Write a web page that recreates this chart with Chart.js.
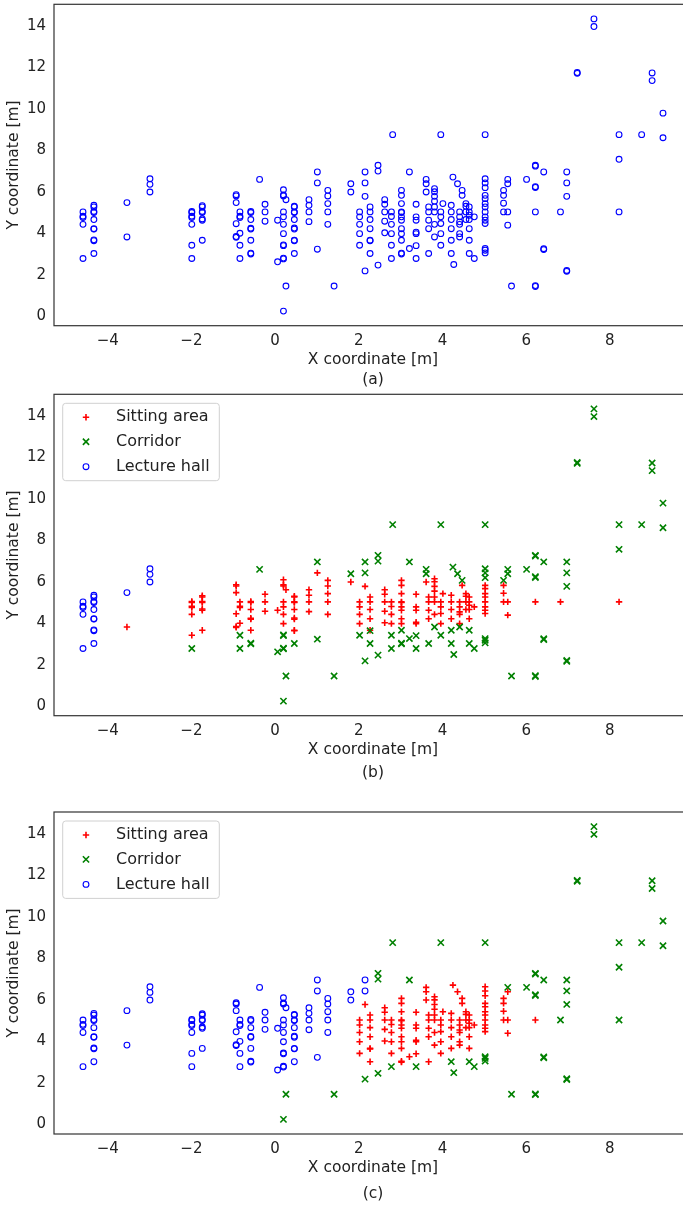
<!DOCTYPE html>
<html>
<head>
<meta charset="utf-8">
<script src="https://cdn.jsdelivr.net/npm/chart.js@4.4.1/dist/chart.umd.min.js"></script>
<style>
  html, body { margin: 0; padding: 0; background: #fff; }
  body { position: relative; width: 683px; height: 1206px; overflow: hidden; }
  canvas { position: absolute; left: 0; }
  #chartA { top: 0; }
  #chartB { top: 390px; }
  #chartC { top: 790px; }
</style>
</head>
<body>
<canvas id="chartA" width="700" height="390"></canvas>
<canvas id="chartB" width="700" height="400"></canvas>
<canvas id="chartC" width="700" height="416"></canvas>
<script>
// measured positions, grouped by x column; zones: S = sitting area, C = corridor, L = lecture hall
const colX = [-4.59, -4.33, -3.54, -2.99, -1.99, -1.74, -0.93, -0.84, -0.58, -0.37,
              -0.24, 0.06, 0.20, 0.26, 0.46, 0.81, 1.01, 1.26, 1.41, 1.81,
              2.02, 2.15, 2.27, 2.46, 2.62, 2.78, 2.81, 3.02, 3.21, 3.37,
              3.61, 3.67, 3.81, 3.96, 4.01, 4.21, 4.25, 4.27, 4.36, 4.41,
              4.47, 4.56, 4.64, 4.76, 5.02, 5.46, 5.56, 5.65, 6.01, 6.22,
              6.42, 6.82, 6.97, 7.22, 7.62, 8.22, 8.76, 9.01, 9.27];

const colY = [
  [5.03, 4.82, 4.76, 4.43, 2.78],
  [5.35, 5.27, 5.05, 5.00, 4.66, 4.22, 4.20, 3.68, 3.64, 3.02],
  [5.48, 3.82],
  [6.63, 6.36, 5.99],
  [5.05, 5.00, 4.82, 4.76, 4.43, 3.42, 2.78],
  [5.33, 5.27, 5.05, 5.00, 4.69, 4.63, 3.66],
  [5.86, 5.80, 5.48, 4.46, 3.84, 3.80],
  [5.03, 4.82, 4.76, 4.00, 3.42, 2.78],
  [5.05, 5.00, 4.66, 4.24, 4.20, 3.66, 3.04, 3.00],
  [6.60],
  [5.40, 5.03, 4.58],
  [4.63, 2.62],
  [6.10, 5.85, 5.80, 5.03, 4.79, 4.43, 3.98, 3.44, 3.40, 2.80, 2.76, 0.24],
  [5.62, 1.45],
  [5.30, 5.27, 5.03, 5.00, 4.66, 4.25, 4.20, 3.66, 3.64, 3.02],
  [5.62, 5.35, 5.03, 4.56],
  [6.96, 6.43, 3.23],
  [6.07, 5.80, 5.43, 5.03, 4.43],
  [1.45],
  [6.39, 5.99],
  [5.03, 4.79, 4.43, 3.98, 3.42],
  [6.96, 6.43, 5.78, 2.18],
  [5.27, 5.03, 4.66, 4.22, 3.66, 3.64, 3.02],
  [7.28, 7.00, 2.46],
  [5.62, 5.40, 5.03, 4.58, 4.02],
  [5.03, 4.81, 4.43, 3.98, 3.42, 2.78],
  [8.76],
  [6.07, 5.83, 5.43, 5.03, 5.00, 4.79, 4.63, 4.22, 3.98, 3.66, 3.04, 3.00],
  [6.96, 3.26],
  [5.40, 4.79, 4.63, 4.05, 3.98, 3.40, 2.78],
  [6.60, 6.39, 5.99],
  [5.27, 5.03, 4.63, 4.22, 3.02],
  [6.15, 6.00, 5.78, 5.55, 5.27, 5.03, 4.43, 3.82],
  [8.76, 5.03, 4.79, 4.47, 3.98, 3.42],
  [5.43],
  [5.35, 5.03, 4.66, 4.22, 3.66, 3.02],
  [6.71],
  [2.49],
  [6.39],
  [5.03, 4.79, 4.55, 4.43, 3.98, 3.82],
  [6.07, 5.83],
  [5.43, 5.30, 5.03, 4.66],
  [5.27, 5.03, 4.87, 4.66, 4.22, 3.66, 3.02],
  [4.79, 2.78],
  [8.76, 6.63, 6.43, 6.20, 5.83, 5.67, 5.43, 5.27, 5.03, 4.79, 4.63, 4.47, 3.26, 3.18, 3.05],
  [6.07, 5.83, 5.45, 5.03],
  [6.60, 6.39, 5.03, 4.39],
  [1.45],
  [6.60],
  [7.28, 7.24, 6.25, 6.21, 5.03, 1.47, 1.43],
  [6.96, 3.25, 3.21],
  [5.03],
  [6.96, 6.43, 5.78, 2.20, 2.16],
  [11.76, 11.72],
  [14.35, 13.98],
  [8.76, 7.57, 5.03],
  [8.76],
  [11.74, 11.37],
  [9.80, 8.61]
];

// zone per point, panel (b)
const zoneB = [
  'LLLLL', 'LLLLLLLLLL', 'LS', 'LLL', 'SSSSSSC', 'SSSSSSS', 'SSSSSS', 'SSSSCC', 'SSSSSSCC', 'C',
  'SSS', 'SC', 'SSSSSSSCCCCC', 'SC', 'SSSSSSSSSC', 'SSSS', 'CSC', 'SSSSS', 'C', 'CS',
  'SSSSC', 'CCSC', 'SSSSSCC', 'CCC', 'SSSSS', 'SSSSCC', 'C', 'SSSSSSSSSCCC', 'CC', 'SSSSSCC',
  'CCS', 'SSSSC', 'SSSSSSSC', 'CSSSSC', 'S', 'SSSSCC', 'C', 'C', 'C', 'SSSSSC',
  'CS', 'SSSS', 'SSSSSCC', 'SC', 'CCCCSSSSSSSSCCC', 'CSSS', 'CCSS', 'C', 'C', 'CCCCSCC',
  'CCC', 'S', 'CCCCC', 'CC', 'CC', 'CCS', 'C', 'CC', 'CC'
];

// zone per point, panel (c)
const zoneC = [
  'LLLLL', 'LLLLLLLLLL', 'LL', 'LLL', 'LLLLLLL', 'LLLLLLL', 'LLLLLL', 'LLLLLL', 'LLLLLLLL', 'L',
  'LLL', 'LL', 'LLLLLLLLLLLC', 'LC', 'LLLLLLLLLL', 'LLLL', 'LLL', 'LLLLL', 'C', 'LL',
  'SSSSS', 'LLSC', 'SSSSSSS', 'CCC', 'SSSSS', 'SSSSSC', 'C', 'SSSSSSSSSSSS', 'CS', 'SSSSSSC',
  'SSS', 'SSSSS', 'SSSSSSSS', 'CSSSSS', 'S', 'SSSSSC', 'S', 'C', 'S', 'SSSSSS',
  'SS', 'SSSS', 'SSSSSSC', 'SC', 'CSSSSSSSSSSSCCC', 'SSSS', 'CSSS', 'C', 'C', 'CCCCSCC',
  'CCC', 'C', 'CCCCC', 'CC', 'CC', 'CCC', 'C', 'CC', 'CC'
];

const zoneKeys = ['S', 'C', 'L'];
const zoneNames = ['Sitting area', 'Corridor', 'Lecture hall'];
const xTicks = [-4, -2, 0, 2, 4, 6, 8];
const yTicks = [0, 2, 4, 6, 8, 10, 12, 14];

const markerStyles = {
  S: { pointStyle: 'cross', pointRadius: 3.2, pointBorderWidth: 1.6, borderColor: '#ff0000', backgroundColor: '#ff0000', order: 2 },
  C: { pointStyle: 'crossRot', pointRadius: 4.4, pointBorderWidth: 1.6, borderColor: '#008000', backgroundColor: '#008000', order: 1 },
  L: { pointStyle: 'circle', pointRadius: 2.9, pointBorderWidth: 1.1, borderColor: '#0000ff', backgroundColor: 'rgba(0,0,0,0)', order: 0 }
};

function collectPoints(zones, key) {
  const pts = [];
  colX.forEach((x, i) => {
    colY[i].forEach((y, j) => {
      if (!zones || zones[i][j] === key) pts.push({ x: x, y: y });
    });
  });
  return pts;
}

// axis limits with a 5% margin around the data
const allPts = collectPoints(null);
const xsAll = allPts.map(p => p.x), ysAll = allPts.map(p => p.y);
const xPad = (Math.max(...xsAll) - Math.min(...xsAll)) * 0.05;
const yPad = (Math.max(...ysAll) - Math.min(...ysAll)) * 0.05;
const xRange = [Math.min(...xsAll) - xPad, Math.max(...xsAll) + xPad];
const yRange = [Math.min(...ysAll) - yPad, Math.max(...ysAll) + yPad];

const textColor = '#222';
const tickFont = { family: 'DejaVu Sans', size: 15 };
const titleFont = { family: 'DejaVu Sans', size: 15.5 };
const minus = v => String(v).replace('-', '\u2212');

function zeroPadding(s) {
  s.paddingLeft = 0; s.paddingRight = 0; s.paddingTop = 0; s.paddingBottom = 0;
}

function markerPath(ctx, style, x, y) {
  const r = style.pointRadius;
  ctx.beginPath();
  if (style.pointStyle === 'circle') {
    ctx.arc(x, y, r, 0, Math.PI * 2);
  } else if (style.pointStyle === 'cross') {
    ctx.moveTo(x - r, y); ctx.lineTo(x + r, y);
    ctx.moveTo(x, y - r); ctx.lineTo(x, y + r);
  } else {
    const d = r * Math.SQRT1_2;
    ctx.moveTo(x - d, y - d); ctx.lineTo(x + d, y + d);
    ctx.moveTo(x - d, y + d); ctx.lineTo(x + d, y - d);
  }
  ctx.stroke();
}

// frame around the plot, caption under it, boxed legend in the corner
const panelDecor = {
  id: 'panelDecor',
  afterDatasetsDraw(chart, args, opts) {
    const { ctx, chartArea: a } = chart;
    ctx.save();
    ctx.strokeStyle = '#333';
    ctx.lineWidth = 1.2;
    ctx.strokeRect(a.left, a.top, a.right - a.left, a.bottom - a.top);

    ctx.fillStyle = textColor;
    ctx.font = '15.5px "DejaVu Sans"';
    ctx.textAlign = 'center';
    ctx.textBaseline = 'middle';
    ctx.fillText(opts.caption, (a.left + a.right) / 2, opts.captionY);

    if (opts.legend) {
      const bx = a.left + 8.7, by = a.top + 9, bw = 156.6, bh = 77.4;
      ctx.beginPath();
      ctx.roundRect(bx, by, bw, bh, 3);
      ctx.fillStyle = 'rgba(255,255,255,0.8)';
      ctx.fill();
      ctx.strokeStyle = '#d0d0d0';
      ctx.lineWidth = 1;
      ctx.stroke();
      const rows = [23, 47.4, 72.4];
      chart.data.datasets.forEach((ds, i) => {
        const st = markerStyles[zoneKeys[i]];
        ctx.strokeStyle = st.borderColor;
        ctx.lineWidth = st.pointBorderWidth;
        markerPath(ctx, st, a.left + 32, a.top + rows[i]);
        ctx.fillStyle = textColor;
        ctx.font = '16px "DejaVu Sans"';
        ctx.textAlign = 'left';
        ctx.fillText(ds.label, a.left + 62, a.top + rows[i]);
      });
    }
    ctx.restore();
  }
};

function buildChart(canvasId, datasets, frame) {
  return new Chart(document.getElementById(canvasId), {
    type: 'scatter',
    data: { datasets: datasets },
    options: {
      responsive: false,
      animation: false,
      events: [],
      layout: { autoPadding: false, padding: { top: frame.top, bottom: frame.bottom, left: 0, right: 8 } },
      plugins: {
        legend: { display: false },
        tooltip: { enabled: false },
        panelDecor: { caption: frame.caption, captionY: frame.captionY, legend: frame.legend }
      },
      scales: {
        x: {
          type: 'linear',
          min: xRange[0],
          max: xRange[1],
          grid: { display: false, drawTicks: false },
          border: { display: false },
          ticks: { padding: 6, color: textColor, font: tickFont, maxRotation: 0, callback: minus },
          afterBuildTicks: s => { s.ticks = xTicks.map(v => ({ value: v })); },
          afterFit: s => { s.height = 45; zeroPadding(s); },
          title: { display: true, text: 'X coordinate [m]', color: textColor, font: titleFont, padding: { top: 0, bottom: 1.4 } }
        },
        y: {
          type: 'linear',
          min: yRange[0],
          max: yRange[1],
          grid: { display: false, drawTicks: false },
          border: { display: false },
          ticks: { padding: 8, color: textColor, font: tickFont, callback: minus },
          afterBuildTicks: s => { s.ticks = yTicks.map(v => ({ value: v })); },
          afterFit: s => { s.width = 54; zeroPadding(s); },
          title: { display: true, text: 'Y coordinate [m]', color: textColor, font: titleFont, padding: { top: 4.7, bottom: 0 } }
        }
      }
    },
    plugins: [panelDecor]
  });
}

function zoneDatasets(zones) {
  return zoneKeys.map((key, i) => Object.assign({
    label: zoneNames[i],
    data: collectPoints(zones, key)
  }, markerStyles[key]));
}

// (a): every position as one set
buildChart('chartA', [Object.assign({ label: 'All', data: allPts }, markerStyles.L)],
  { top: 4.3, bottom: 19.3, caption: '(a)', captionY: 380, legend: false });

// (b) and (c): the same positions split into zones
buildChart('chartB', zoneDatasets(zoneB),
  { top: 4.3, bottom: 29.3, caption: '(b)', captionY: 383, legend: true });

buildChart('chartC', zoneDatasets(zoneC),
  { top: 22, bottom: 27, caption: '(c)', captionY: 404, legend: true });
</script>
</body>
</html>
